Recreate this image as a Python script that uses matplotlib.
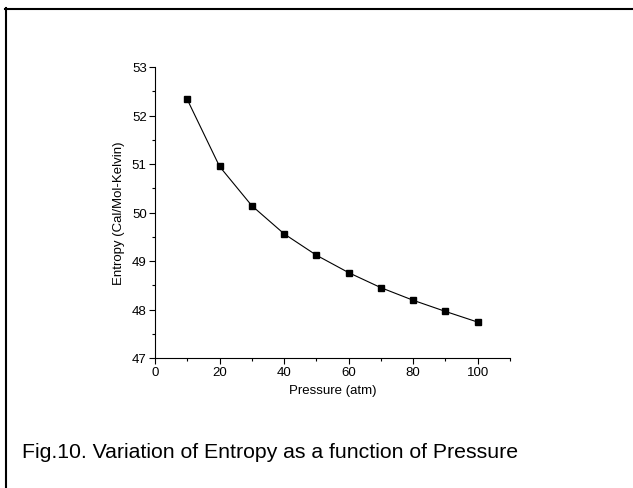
import matplotlib
matplotlib.use("Agg")
import matplotlib.pyplot as plt
from matplotlib.lines import Line2D
from matplotlib.ticker import MultipleLocator

plt.rcParams['font.family'] = ['Liberation Sans', 'DejaVu Sans']

pressure = [10, 20, 30, 40, 50, 60, 70, 80, 90, 100]
entropy = [52.33, 50.95, 50.14, 49.56, 49.12, 48.76, 48.45, 48.19, 47.96, 47.74]

W, H = 633, 489
fig = plt.figure(figsize=(W / 100, H / 100), dpi=100)
ax = fig.add_axes([155 / W, (H - 359) / H, (510 - 155) / W, (359 - 68) / H])

ax.plot(pressure, entropy, color='black', lw=0.8, marker='s', ms=4.5)

ax.set_xlim(0, 110)
ax.set_ylim(47, 53)
ax.xaxis.set_major_locator(MultipleLocator(20))
ax.xaxis.set_minor_locator(MultipleLocator(10))
ax.yaxis.set_major_locator(MultipleLocator(1))
ax.yaxis.set_minor_locator(MultipleLocator(0.5))
ax.spines['top'].set_visible(False)
ax.spines['right'].set_visible(False)
for s in ('left', 'bottom'):
    ax.spines[s].set_linewidth(0.8)
ax.tick_params(which='major', direction='out', length=4, width=0.8, labelsize=9.5, pad=2)
ax.tick_params(which='minor', direction='out', length=2.5, width=0.8)

ax.set_xlabel('Pressure (atm)', fontsize=9.5, labelpad=4)
ax.set_ylabel('Entropy (Cal/Mol-Kelvin)', fontsize=9.5, labelpad=5)

# partial frame around the figure
fig.add_artist(Line2D([5 / W, 1], [1 - 9.5 / H, 1 - 9.5 / H], color='black', lw=1.5,
                      transform=fig.transFigure))
fig.add_artist(Line2D([6 / W, 6 / W], [0, 1 - 9 / H], color='black', lw=1.5,
                      transform=fig.transFigure))

fig.text(22 / W, 1 - 453 / H, 'Fig.10. Variation of Entropy as a function of Pressure',
         fontsize=15.3, ha='left', va='center')

fig.savefig('out.png', dpi=100)
